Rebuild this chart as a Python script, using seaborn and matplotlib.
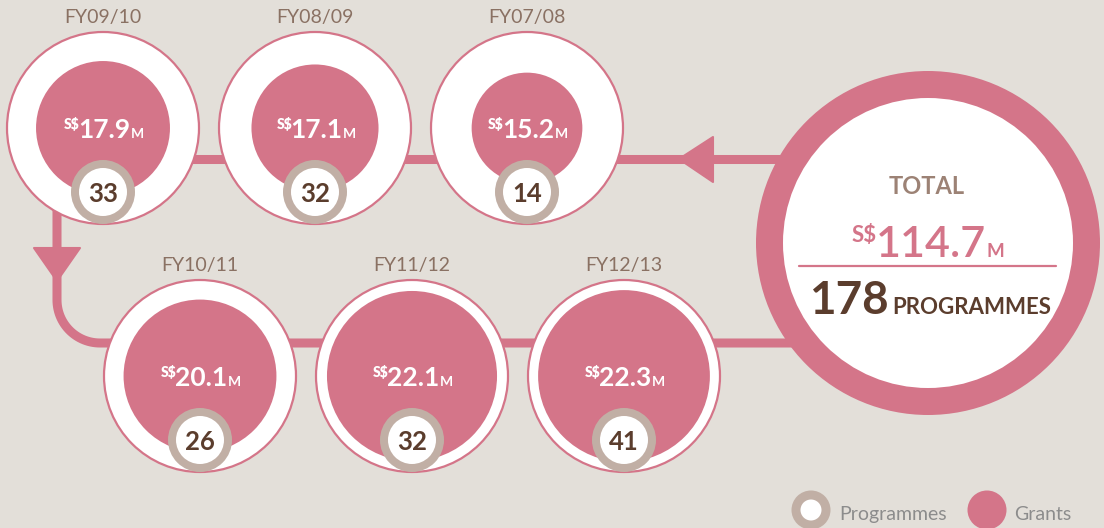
import numpy as np
import pandas as pd
import matplotlib
matplotlib.use("Agg")
import matplotlib.pyplot as plt
import seaborn as sns
from matplotlib.patches import Circle, Polygon

# ---------------- data ----------------
years = ["FY09/10", "FY08/09", "FY07/08", "FY10/11", "FY11/12", "FY12/13"]
grants = [17.9, 17.1, 15.2, 20.1, 22.1, 22.3]          # S$ million
programmes = [33, 32, 14, 26, 32, 41]
total_grants = round(sum(grants), 1)
total_programmes = sum(programmes)

# ---------------- style ----------------
BG = "#E3DFD9"
PINK = "#D47589"
TAUPE = "#C1AFA5"
BROWN = "#5B3D2D"
YEARC = "#8A7163"
TOTALC = "#9C8275"
LEGC = "#8C8C8C"

sns.set_theme(style="white")
plt.rcParams['font.family'] = ['Lato', 'DejaVu Sans']

fig = plt.figure(figsize=(11.04, 5.28), dpi=100)
fig.patch.set_facecolor(BG)
ax = fig.add_axes([0, 0, 1, 1])
ax.set_facecolor(BG)

# layout (pixel coordinates, y downward)
centers = [(103, 128), (315, 128), (527, 128), (200, 376), (412, 376), (624, 376)]
R_OUT = 96
TOT_C = (928, 243)

# ---------------- connectors ----------------
LW = 6.5
arc_t = np.linspace(np.pi, np.pi / 2, 30)
conn = pd.DataFrame({
    "x": np.r_[57, 57, 100 + 43 * np.cos(arc_t), 800],
    "y": np.r_[200, 300, 300 + 43 * np.sin(arc_t), 343],
    "seg": "bottom"})
top = pd.DataFrame({"x": [150, 800], "y": [159, 159], "seg": "top"})
lines = pd.concat([conn, top], ignore_index=True)
for seg, d in lines.groupby("seg"):
    sns.lineplot(data=d, x="x", y="y", sort=False, estimator=None, color=PINK,
                 linewidth=LW, ax=ax, zorder=1, solid_capstyle='butt', legend=False)
ax.set_xlim(0, 1104)
ax.set_ylim(528, 0)
ax.set_aspect('equal')
ax.axis('off')

ax.add_patch(Polygon([(34, 248), (80, 248), (57, 281)], closed=True, fc=PINK, ec=PINK,
                     lw=1.5, joinstyle='round', zorder=1))
ax.add_patch(Polygon([(679, 159), (713, 137), (713, 182)], closed=True, fc=PINK, ec=PINK,
                     lw=1.5, joinstyle='round', zorder=1))

renderer = fig.canvas.get_renderer()


def cap(pt):
    return 0.7165 * pt * 100 / 72


def compose(cx, base, parts):
    """parts: (string, size, weight, color, rise, gap_before)"""
    txts, widths, gaps = [], [], []
    for s, size, w, c, rise, g in parts:
        t = ax.text(0, base - rise, s, fontsize=size, fontweight=w, color=c,
                    ha='left', va='baseline', zorder=10)
        txts.append(t)
        widths.append(t.get_window_extent(renderer).width)
        gaps.append(g)
    total = sum(widths) + sum(gaps)
    x = cx - total / 2
    for t, w, g in zip(txts, widths, gaps):
        x += g
        t.set_x(x)
        x += w


# ---------------- year circles ----------------
for (cx, cy), yr, g, p in zip(centers, years, grants, programmes):
    ax.add_patch(Circle((cx, cy), R_OUT, fc="white", ec=PINK, lw=1.6, zorder=3))
    r_in = -10 + 4.3 * g
    ax.add_patch(Circle((cx, cy), r_in, fc=PINK, ec="none", zorder=4))
    ax.add_patch(Circle((cx, cy + 64), 32, fc=TAUPE, ec="none", zorder=5))
    ax.add_patch(Circle((cx, cy + 64), 24, fc="white", ec="none", zorder=6))
    ax.text(cx, cy - 105, yr, fontsize=14, color=YEARC, ha='center', va='baseline', zorder=10)
    dsz = 19
    compose(cx + 1, cy + 10, [
        ("S$", 10, 'heavy', "white", cap(dsz) - cap(10), 0),
        (f"{g:.1f}", dsz, 'bold', "white", 0, -1.5),
        ("M", 10, 'bold', "white", 0, 0)])
    ax.text(cx, cy + 64 + 9.5, f"{p}", fontsize=18.5, fontweight='bold', color=BROWN,
            ha='center', va='baseline', zorder=10)

# ---------------- total circle ----------------
ax.add_patch(Circle(TOT_C, 172, fc=PINK, ec="none", zorder=3))
ax.add_patch(Circle(TOT_C, 145, fc="white", ec="none", zorder=4))
ax.text(927, 194, "TOTAL", fontsize=17, fontweight='bold', color=TOTALC,
        ha='center', va='baseline', zorder=10)
tsz = 31
compose(928, 257, [
    ("S$", 16, 'bold', PINK, cap(tsz) - cap(16), 0),
    (f"{total_grants:.1f}", tsz, 'semibold', PINK, 0, -1),
    ("M", 13.5, 'bold', PINK, 0, 0)])
ax.plot([799, 1056], [266, 266], color=PINK, lw=1.6, zorder=10)
compose(930, 314, [
    (f"{total_programmes}", 33, 'bold', BROWN, 0, 0),
    ("PROGRAMMES", 16, 'bold', BROWN, 0, 4)])

# ---------------- legend ----------------
ax.add_patch(Circle((811, 510), 19.5, fc=TAUPE, ec="none", zorder=5))
ax.add_patch(Circle((811, 510), 10.5, fc="white", ec="none", zorder=6))
ax.text(839, 520, "Programmes", fontsize=14, color=LEGC, ha='left', va='baseline', zorder=10)
ax.add_patch(Circle((987, 510), 19.5, fc=PINK, ec="none", zorder=5))
ax.text(1014, 520, "Grants", fontsize=14, color=LEGC, ha='left', va='baseline', zorder=10)

fig.savefig("out.png", dpi=100, facecolor=BG)
